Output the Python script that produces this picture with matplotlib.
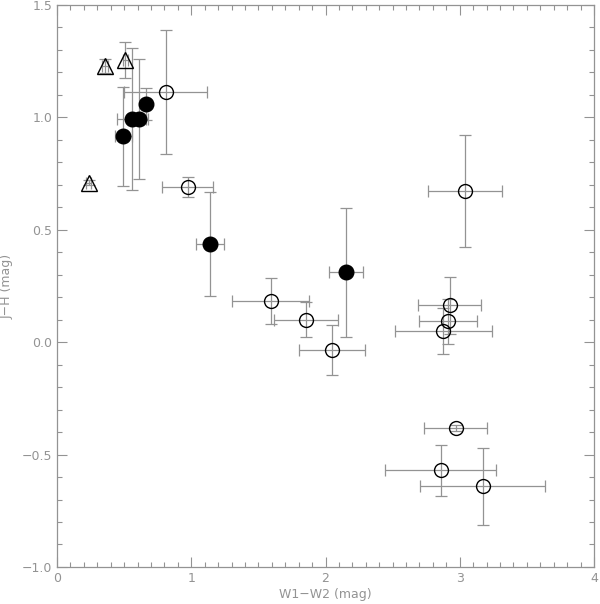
import numpy as np
import matplotlib
matplotlib.use("Agg")
import matplotlib.pyplot as plt
from matplotlib.ticker import MultipleLocator, FuncFormatter

# open triangles
tri_x = [0.358, 0.509, 0.236]
tri_y = [1.229, 1.255, 0.710]
tri_xerr = [0.02, 0.02, 0.02]
tri_yerr = [0.033, 0.079, 0.012]

# filled circles
fill_x = [0.494, 0.556, 0.613, 0.663, 1.140, 2.153]
fill_y = [0.916, 0.993, 0.994, 1.060, 0.437, 0.311]
fill_xerr = [0.062, 0.109, 0.062, 0.03, 0.106, 0.127]
fill_yerr = [0.220, 0.315, 0.267, 0.070, 0.232, 0.286]

# open circles
open_x = [0.810, 0.974, 1.592, 1.857, 2.051, 3.037, 2.925, 2.915, 2.877, 2.970, 2.858, 3.171]
open_y = [1.114, 0.692, 0.183, 0.100, -0.035, 0.673, 0.164, 0.094, 0.050, -0.382, -0.570, -0.641]
open_xerr = [0.311, 0.189, 0.285, 0.237, 0.246, 0.276, 0.236, 0.217, 0.360, 0.235, 0.415, 0.467]
open_yerr = [0.276, 0.044, 0.104, 0.079, 0.110, 0.250, 0.126, 0.100, 0.104, 0.015, 0.113, 0.172]

GREY = "#939393"
ERR = dict(fmt="none", ecolor=GREY, elinewidth=0.9, capsize=4.5, capthick=0.9, zorder=1)

fig = plt.figure(figsize=(6.0, 6.04), dpi=100)
ax = fig.add_axes([0.095, 0.0613, 0.895, 0.9304])

ax.errorbar(open_x, open_y, xerr=open_xerr, yerr=open_yerr, **ERR)
ax.errorbar(fill_x, fill_y, xerr=fill_xerr, yerr=fill_yerr, **ERR)
ax.errorbar(tri_x, tri_y, xerr=tri_xerr, yerr=tri_yerr, **ERR)

ax.plot(open_x, open_y, "o", ms=10, mfc="none", mec="black", mew=1.0, ls="none", zorder=3)
ax.plot(fill_x, fill_y, "o", ms=10.5, mfc="black", mec="black", ls="none", zorder=3)
ax.plot(tri_x, tri_y, "^", ms=11, mfc="none", mec="black", mew=1.0, ls="none", zorder=3)

ax.set_xlim(0, 4)
ax.set_ylim(-1.0, 1.5)
ax.xaxis.set_major_locator(MultipleLocator(1))
ax.xaxis.set_minor_locator(MultipleLocator(0.1))
ax.yaxis.set_major_locator(MultipleLocator(0.5))
ax.yaxis.set_minor_locator(MultipleLocator(0.1))
ax.yaxis.set_major_formatter(FuncFormatter(lambda v, p: f"{v:.1f}".replace("-", "\u2212")))
ax.xaxis.set_major_formatter(FuncFormatter(lambda v, p: f"{v:.0f}"))

ax.tick_params(which="both", direction="in", top=True, right=True,
               color=GREY, labelcolor=GREY, labelsize=9, width=0.8)
ax.tick_params(which="major", length=7)
ax.tick_params(which="minor", length=3.5)
for s in ax.spines.values():
    s.set_color(GREY)
    s.set_linewidth(0.9)

ax.set_xlabel("W1\u2212W2 (mag)", color=GREY, fontsize=9, labelpad=2)
ax.set_ylabel("J\u2212H (mag)", color=GREY, fontsize=9, labelpad=6)

fig.savefig("out.png", dpi=100)
